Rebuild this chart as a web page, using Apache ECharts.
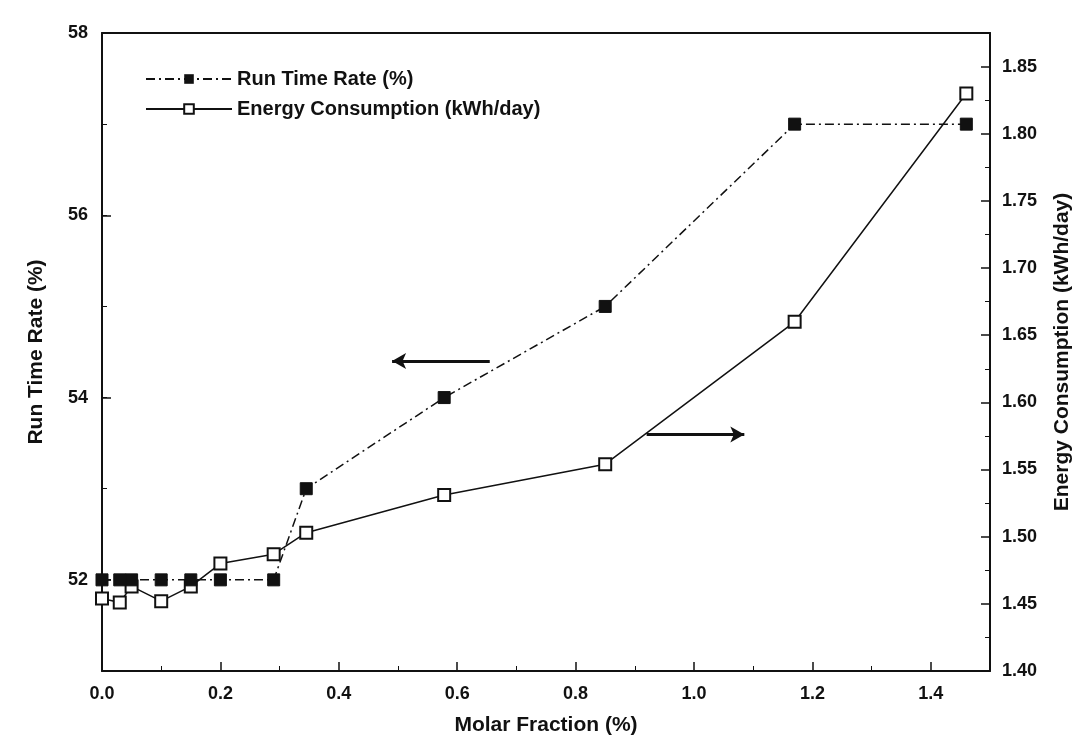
<!DOCTYPE html>
<html>
<head>
<meta charset="utf-8">
<script src="https://cdn.jsdelivr.net/npm/echarts@6/dist/echarts.min.js"></script>
<style>
  html, body { margin: 0; padding: 0; background: #fff; }
  #chart { width: 1090px; height: 744px; }
</style>
</head>
<body>
<div id="chart"></div>
<script>
// data
var molarFraction = [0, 0.03, 0.05, 0.1, 0.15, 0.2, 0.29, 0.345, 0.578, 0.85, 1.17, 1.46];
var runTimeRate = [52, 52, 52, 52, 52, 52, 52, 53, 54, 55, 57, 57];
var energyUse = [1.454, 1.451, 1.463, 1.452, 1.463, 1.480, 1.487, 1.503, 1.531, 1.554, 1.66, 1.83];
var leftTicks = [52, 54, 56, 58];

var font = 'Liberation Sans, Arial, sans-serif';
var black = '#111';

function pairs(xs, ys) {
  return xs.map(function (x, i) { return [x, ys[i]]; });
}

var chart = echarts.init(document.getElementById('chart'));

var option = {
  animation: false,
  backgroundColor: '#fff',
  grid: { left: 102, top: 33, width: 888, height: 638 },
  legend: {
    left: 140, top: 64, orient: 'vertical', itemGap: 10,
    itemWidth: 86, itemHeight: 12,
    textStyle: { fontFamily: font, fontWeight: 'bold', fontSize: 20, color: black },
    data: ['Run Time Rate (%)', 'Energy Consumption (kWh/day)']
  },
  xAxis: [{
    type: 'value', min: 0, max: 1.5, interval: 0.2,
    name: 'Molar Fraction (%)', nameLocation: 'middle', nameGap: 44,
    nameTextStyle: { fontFamily: font, fontWeight: 'bold', fontSize: 21, color: black },
    axisLine: { onZero: false, lineStyle: { color: black, width: 2 } },
    axisTick: { inside: true, length: 9, lineStyle: { color: black, width: 1.5 } },
    minorTick: { show: true, splitNumber: 2, length: 5, lineStyle: { color: black } },
    axisLabel: {
      showMaxLabel: false, margin: 14,
      fontFamily: font, fontWeight: 'bold', fontSize: 18, color: black,
      formatter: function (v) { return v.toFixed(1); }
    },
    splitLine: { show: false }
  }, {
    type: 'value', min: 0, max: 1.5, position: 'top',
    axisLine: { onZero: false, lineStyle: { color: black, width: 2 } },
    axisTick: { show: false }, axisLabel: { show: false }, splitLine: { show: false }
  }],
  yAxis: [{
    type: 'value', min: 51, max: 58, position: 'left',
    name: 'Run Time Rate (%)', nameLocation: 'middle', nameGap: 55,
    nameTextStyle: { fontFamily: font, fontWeight: 'bold', fontSize: 21, color: black },
    axisLine: { show: true, onZero: false, lineStyle: { color: black, width: 2 } },
    axisTick: { inside: true, length: 9, customValues: leftTicks, lineStyle: { color: black, width: 1.5 } },
    axisLabel: {
      customValues: leftTicks, margin: 14,
      fontFamily: font, fontWeight: 'bold', fontSize: 18, color: black
    },
    splitLine: { show: false }
  }, {
    type: 'value', min: 1.40, max: 1.875, interval: 0.05, position: 'right',
    name: 'Energy Consumption (kWh/day)', nameLocation: 'middle', nameGap: 62,
    nameRotate: 90,
    nameTextStyle: { fontFamily: font, fontWeight: 'bold', fontSize: 21, color: black },
    axisLine: { show: true, onZero: false, lineStyle: { color: black, width: 2 } },
    axisTick: { inside: true, length: 9, lineStyle: { color: black, width: 1.5 } },
    minorTick: { show: true, splitNumber: 2, length: 5, lineStyle: { color: black } },
    axisLabel: {
      showMaxLabel: false, margin: 12,
      fontFamily: font, fontWeight: 'bold', fontSize: 18, color: black,
      formatter: function (v) { return v.toFixed(2); }
    },
    splitLine: { show: false }
  }, {
    // short ticks at every unit on the left axis
    type: 'value', min: 51, max: 58, interval: 1, position: 'left',
    axisLine: { show: false, onZero: false },
    axisTick: { inside: true, length: 5, lineStyle: { color: black } },
    axisLabel: { show: false }, splitLine: { show: false }
  }],
  series: [{
    name: 'Run Time Rate (%)', type: 'line', yAxisIndex: 0,
    data: pairs(molarFraction, runTimeRate),
    symbol: 'rect', symbolSize: 12,
    itemStyle: { color: black, borderColor: black },
    lineStyle: { color: black, width: 1.5, type: [9, 4, 2, 4] },
    z: 3,
    markLine: {
      silent: true, symbol: ['arrow', 'none'], symbolSize: [12, 14],
      label: { show: false },
      lineStyle: { color: black, width: 3, type: 'solid' },
      data: [[{ coord: [0.49, 54.4] }, { coord: [0.655, 54.4] }]]
    }
  }, {
    name: 'Energy Consumption (kWh/day)', type: 'line', yAxisIndex: 1,
    data: pairs(molarFraction, energyUse),
    symbol: 'rect', symbolSize: 12,
    itemStyle: { color: '#fff', borderColor: black, borderWidth: 2 },
    lineStyle: { color: black, width: 1.5 },
    z: 2,
    markLine: {
      silent: true, symbol: ['none', 'arrow'], symbolSize: [12, 14],
      label: { show: false },
      lineStyle: { color: black, width: 3, type: 'solid' },
      data: [[{ coord: [0.92, 1.576] }, { coord: [1.085, 1.576] }]]
    }
  }]
};

chart.setOption(option);
</script>
</body>
</html>
